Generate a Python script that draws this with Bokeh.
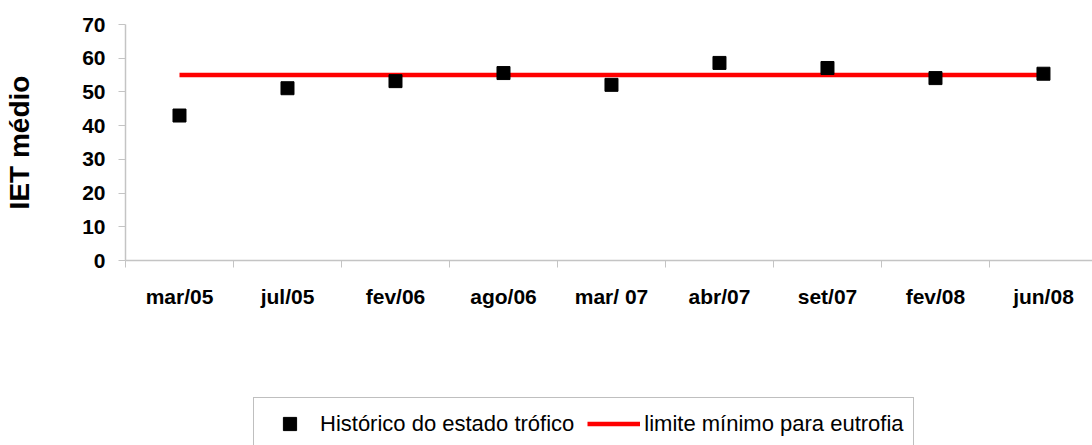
from bokeh.plotting import figure
from bokeh.layouts import column
from bokeh.models import Range1d, FixedTicker, Legend, LegendItem, ColumnDataSource
from bokeh.embed import file_html
from bokeh.resources import INLINE

# ---- data ----
categories = ["mar/05", "jul/05", "fev/06", "ago/06", "mar/ 07", "abr/07", "set/07", "fev/08", "jun/08"]
iet_medio = [43.0, 51.1, 53.2, 55.6, 52.1, 58.6, 57.1, 54.1, 55.4]
limite_eutrofia = [55, 55, 55, 55, 55, 55, 55, 55, 55]
y_ticks = [0, 10, 20, 30, 40, 50, 60, 70]
legend_labels = ["Histórico do estado trófico", "limite mínimo para eutrofia"]

xs = list(range(len(categories)))
src = ColumnDataSource(dict(x=xs, y=iet_medio, lim=limite_eutrofia))

FONT = "Liberation Sans"
GREY = "#c4c4c4"
LINE_STYLE = dict(line_color="#ff0000", line_width=4.5)
MARK_STYLE = dict(marker="square", size=13, fill_color="black", line_color="black", line_width=1)

# ---------------- main chart ----------------
p = figure(width=1092, height=328, output_backend="svg", toolbar_location=None,
           x_range=Range1d(-0.5, 8.454), y_range=Range1d(0, 70),
           min_border_left=125, min_border_right=0, min_border_top=24, min_border_bottom=68)
p.outline_line_color = None
p.background_fill_color = "white"
p.border_fill_color = "white"

p.line("x", "lim", source=src, **LINE_STYLE)
p.scatter("x", "y", source=src, **MARK_STYLE)

p.xgrid.visible = False
p.ygrid.ticker = FixedTicker(ticks=[70])
p.ygrid.grid_line_color = GREY
p.ygrid.grid_line_width = 1

xa = p.xaxis[0]
xa.ticker = FixedTicker(ticks=xs, minor_ticks=[i - 0.5 for i in range(len(categories) + 1)])
xa.major_label_overrides = {i: c for i, c in enumerate(categories)}
xa.major_tick_out = 0
xa.major_tick_in = 0
xa.minor_tick_out = 7
xa.minor_tick_in = 0
xa.minor_tick_line_color = GREY
xa.axis_line_color = GREY
xa.axis_line_width = 1.5
xa.major_label_standoff = 17
xa.major_label_text_font = FONT
xa.major_label_text_font_style = "bold"
xa.major_label_text_font_size = "21px"
xa.major_label_text_color = "black"

ya = p.yaxis[0]
ya.ticker = FixedTicker(ticks=y_ticks)
ya.major_tick_out = 7
ya.major_tick_in = 0
ya.minor_tick_out = 0
ya.minor_tick_in = 0
ya.major_tick_line_color = GREY
ya.axis_line_color = GREY
ya.axis_line_width = 1.5
ya.major_label_standoff = 13
ya.major_label_text_font = FONT
ya.major_label_text_font_style = "bold"
ya.major_label_text_font_size = "21px"
ya.major_label_text_color = "black"
ya.axis_label = "IET médio"
ya.axis_label_text_font = FONT
ya.axis_label_text_font_style = "bold"
ya.axis_label_text_font_size = "28px"
ya.axis_label_text_color = "black"
ya.axis_label_standoff = 44

# ---------------- legend strip ----------------
# same data source; the ranges keep these renderers out of view so only the legend shows
p2 = figure(width=1092, height=117, output_backend="svg", toolbar_location=None,
            x_range=Range1d(100, 101), y_range=Range1d(100, 101),
            x_axis_location=None, y_axis_location=None,
            min_border_left=0, min_border_right=0, min_border_top=0, min_border_bottom=0)
p2.outline_line_color = None
p2.grid.visible = False
p2.background_fill_color = "white"
p2.border_fill_color = "white"
lr_line = p2.line("x", "lim", source=src, **LINE_STYLE)
lr_pts = p2.scatter("x", "y", source=src, **MARK_STYLE)

legend = Legend(items=[
    LegendItem(label=legend_labels[0], renderers=[lr_pts]),
    LegendItem(label=legend_labels[1], renderers=[lr_line]),
], orientation="horizontal", location=(128, -5))
legend.label_text_font = FONT
legend.label_text_font_size = "22px"
legend.label_text_color = "black"
legend.glyph_width = 53
legend.glyph_height = 33
legend.label_height = 33
legend.label_standoff = 4
legend.spacing = 13
legend.padding = 9
legend.margin = 0
legend.border_line_color = "#808080"
legend.border_line_width = 1
legend.background_fill_color = "white"
legend.background_fill_alpha = 1
p2.add_layout(legend, "center")

layout = column(p, p2, spacing=0)
open("out.html", "w").write(file_html(layout, INLINE))
